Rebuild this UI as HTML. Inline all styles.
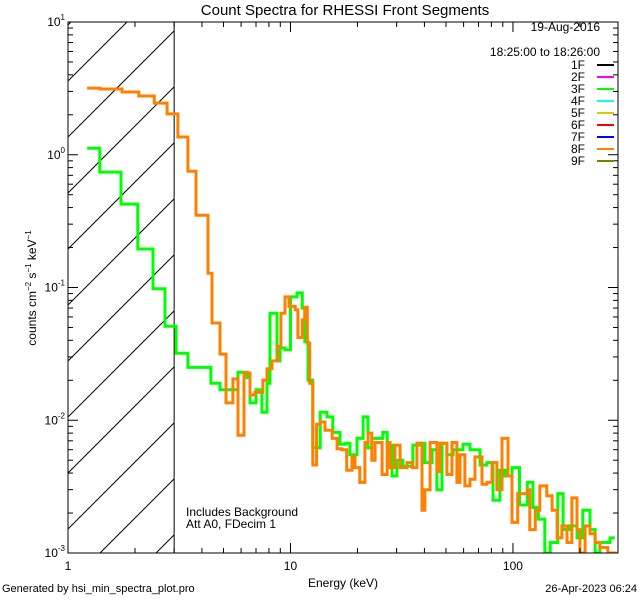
<!DOCTYPE html>
<html><head><meta charset="utf-8">
<style>
html,body{margin:0;padding:0;background:#fff;width:640px;height:600px;overflow:hidden;}
svg{display:block;font-family:"Liberation Sans","DejaVu Sans",sans-serif;}
</style></head>
<body>
<svg id="chart" width="640" height="600" viewBox="0 0 640 600" xmlns="http://www.w3.org/2000/svg">
<rect x="0" y="0" width="640" height="600" fill="#fff"/>
<text x="345" y="15" font-size="15" text-anchor="middle">Count Spectra for RHESSI Front Segments</text>
<g id="hatch"></g>
<g id="series"></g>
<g id="axes"></g>
<text x="600" y="31" font-size="12" text-anchor="end">19-Aug-2016</text>
<text x="600" y="56" font-size="12" text-anchor="end">18:25:00 to 18:26:00</text>
<g id="legend"></g>
<text x="186" y="516" font-size="12">Includes Background</text>
<text x="186" y="528" font-size="12">Att A0, FDecim 1</text>
<text x="343" y="587" font-size="12" text-anchor="middle">Energy (keV)</text>
<text x="2" y="592" font-size="11">Generated by hsi_min_spectra_plot.pro</text>
<text x="637" y="592" font-size="11" text-anchor="end">26-Apr-2023 06:24</text>
<text transform="translate(36,288) rotate(-90)" font-size="12" text-anchor="middle">counts cm<tspan font-size="8" dy="-5">−2</tspan><tspan dy="5"> s</tspan><tspan font-size="8" dy="-5">−1</tspan><tspan dy="5"> keV</tspan><tspan font-size="8" dy="-5">−1</tspan></text>
</svg>
<script>
const xTickLabels = ["1","10","100"];
const xTickValues = [1,10,100];
const yTickExps = [-3,-2,-1,0,1];
const legendLabels = ["1F","2F","3F","4F","5F","6F","7F","8F","9F"];
const legendColors = ["#000000","#ff00ff","#00ff00","#00ffff","#d8c800","#ff0000","#0000ff","#ff8000","#808000"];

const greenEdges = [1.22,1.39,1.73,2.06,2.41,2.73,3.06,3.46,4.39,4.82,5.81,6.38,6.58,7.0,7.44,7.84,8.09,8.70,8.97,9.45,10.0,10.7,11.3,11.6,12.0,12.6,13.6,14.6,15.5,16.7,17.6,18.5,19.9,21.2,22.3,23.2,26.0,27.2,28.6,30.1,32.0,35.5,38.2,40.2,43.3,45.5,48.0,50.5,53.8,59.6,64.1,71.1,76.4,81.3,87.4,92.1,99.0,107,116,123,130,139,147,159,168,180,194,206,222,234,246,259,273,287];
const greenValues = [1.12,0.74,0.425,0.195,0.098,0.051,0.032,0.025,0.019,0.017,0.023,0.021,0.0135,0.017,0.0115,0.019,0.064,0.028,0.035,0.034,0.085,0.091,0.070,0.039,0.02,0.0062,0.0115,0.0106,0.0081,0.0066,0.0067,0.0055,0.0073,0.0106,0.0062,0.0073,0.0081,0.0065,0.0038,0.0050,0.0045,0.0065,0.0067,0.0048,0.0060,0.0030,0.0067,0.0055,0.0060,0.0066,0.0060,0.0046,0.0048,0.0025,0.0042,0.0038,0.0044,0.0023,0.0034,0.0022,0.0018,0.0010,0.0012,0.0028,0.0015,0.0016,0.0013,0.0021,0.0015,0.0010,0.0012,0.0012,0.0013];

const orangeEdges = [1.22,1.39,1.75,2.08,2.44,2.79,3.12,3.46,3.76,4.26,4.44,4.82,5.13,5.51,5.81,6.18,6.58,6.92,7.52,7.84,8.26,8.79,9.06,9.45,9.85,10.2,10.5,10.8,11.3,11.6,11.9,12.2,12.6,13.1,13.6,14.3,15.4,16.2,17.0,17.9,18.9,19.5,20.5,21.6,22.3,23.2,24.0,25.8,27.2,28.0,29.5,31.1,33.4,35.2,37.0,39.0,40.2,42.4,45.5,47.0,50.5,53.2,56.0,57.8,60.8,64.1,67.5,72.6,76.4,80.5,84.7,89.3,95.0,99.0,105,116,119,126,132,142,150,158,166,175,184,194,200,211,222,234,246,267,293];
const orangeValues = [3.18,3.13,2.97,2.77,2.45,2.03,1.36,0.75,0.35,0.128,0.054,0.0315,0.0135,0.0205,0.0077,0.0227,0.0155,0.0162,0.020,0.0244,0.028,0.036,0.064,0.085,0.072,0.072,0.068,0.042,0.057,0.071,0.038,0.019,0.0046,0.0093,0.0097,0.0084,0.0073,0.0061,0.0060,0.0042,0.0053,0.0044,0.0034,0.0068,0.0080,0.0050,0.0068,0.0039,0.0068,0.0044,0.0065,0.0044,0.0048,0.0044,0.0067,0.0021,0.0030,0.0068,0.0041,0.0067,0.0039,0.0068,0.0034,0.0055,0.0032,0.0036,0.0053,0.0033,0.0034,0.0048,0.0030,0.0073,0.0038,0.0017,0.0028,0.0030,0.0015,0.0021,0.0032,0.0027,0.0021,0.0013,0.0016,0.0012,0.0026,0.0015,0.0010,0.0016,0.0014,0.0012,0.0011,0.0010];

const NS = "http://www.w3.org/2000/svg";
const L = 68, R = 618, T = 22, B = 553;
const xMin = 0, xMax = Math.log10(296.6), yMin = -3, yMax = 1;
function xs(e){ return L + (Math.log10(e) - xMin) / (xMax - xMin) * (R - L); }
function ys(v){ return B - (Math.log10(v) - yMin) / (yMax - yMin) * (B - T); }
function mk(tag, attrs, parent){ const el = document.createElementNS(NS, tag); for (const k in attrs) el.setAttribute(k, attrs[k]); parent.appendChild(el); return el; }

const svg = document.getElementById('chart');
const defs = mk('defs', {}, svg);
const cp = mk('clipPath', {id:'plotclip'}, defs);
mk('rect', {x:L, y:T, width:R-L, height:B-T}, cp);

// hatch (segments computed within the region, no overflow)
const hatch = document.getElementById('hatch');
const HX = xs(3);
for (let c = 193 - 56*4; c < B + 160; c += 56) {
  const xa = Math.max(L, L + c - B), xb = Math.min(HX, L + c - T);
  if (xb <= xa) continue;
  const ln = mk('line', {x1:xa, y1:c-(xa-L), x2:xb, y2:c-(xb-L), stroke:'#000', 'stroke-width':1}, hatch);
  
  
}
const vl = mk('line', {x1:HX, y1:T, x2:HX, y2:B, stroke:'#000', 'stroke-width':1}, hatch);



// series
const series = document.getElementById('series');
series.setAttribute('clip-path','url(#plotclip)');
function stepPath(edges, values){
  const n = Math.min(values.length, edges.length - 1);
  let d = '';
  for (let i = 0; i < n; i++) {
    const y = Math.min(ys(values[i]), B + 2);
    d += (i === 0 ? 'M' : 'L') + xs(edges[i]).toFixed(1) + ',' + y.toFixed(1) + 'L' + xs(edges[i+1]).toFixed(1) + ',' + y.toFixed(1);
  }
  return d;
}
const gp = mk('path', {d:stepPath(greenEdges, greenValues), fill:'none', stroke:'#00ff00', 'stroke-width':3, 'stroke-linejoin':'miter'}, series);


const op = mk('path', {d:stepPath(orangeEdges, orangeValues), fill:'none', stroke:'#ff8000', 'stroke-width':3, 'stroke-linejoin':'miter'}, series);



// axes
const axes = document.getElementById('axes');
const frame = mk('rect', {x:L, y:T, width:R-L, height:B-T, fill:'none', stroke:'#000', 'stroke-width':1}, axes);


for (let dec = 0; dec <= 2; dec++) {
  for (let m = 1; m <= 9; m++) {
    const e = m * Math.pow(10, dec);
    if (e > 296.6) break;
    const x = xs(e), len = m === 1 ? 10 : 5;
    const t1 = mk('line', {x1:x, y1:B, x2:x, y2:B-len, stroke:'#000'}, axes);
    
    
    const t2 = mk('line', {x1:x, y1:T, x2:x, y2:T+len, stroke:'#000'}, axes);
    
    
  }
}
xTickValues.forEach((v, i) => {
  const t = mk('text', {x:xs(v), y:B+17, 'font-size':12, 'text-anchor':'middle'}, axes);
  t.textContent = xTickLabels[i];
  
  
});
yTickExps.forEach(p => {
  for (let m = 1; m <= 9; m++) {
    if (p === 1 && m > 1) break;
    const y = ys(m * Math.pow(10, p)), len = m === 1 ? 10 : 5;
    const t1 = mk('line', {x1:L, y1:y, x2:L+len, y2:y, stroke:'#000'}, axes);
    
    
    const t2 = mk('line', {x1:R, y1:y, x2:R-len, y2:y, stroke:'#000'}, axes);
    
    
  }
  const y = ys(Math.pow(10, p));
  const t = mk('text', {x:L-3, y:y+4, 'font-size':12, 'text-anchor':'end'}, axes);
  
  
  const b = document.createElementNS(NS, 'tspan'); b.textContent = '10'; t.appendChild(b);
  const s = document.createElementNS(NS, 'tspan'); s.setAttribute('font-size', 8); s.setAttribute('dy', -6); s.textContent = String(p); t.appendChild(s);
});

// legend
const legend = document.getElementById('legend');
legendLabels.forEach((lab, i) => {
  const y = 65 + i * 12;
  const t = mk('text', {x:585, y:y+4, 'font-size':12, 'text-anchor':'end'}, legend);
  t.textContent = lab;
  
  
  const l = mk('line', {x1:597, y1:y, x2:614, y2:y, stroke:legendColors[i], 'stroke-width':2}, legend);
  
  
});
</script>
</body></html>
